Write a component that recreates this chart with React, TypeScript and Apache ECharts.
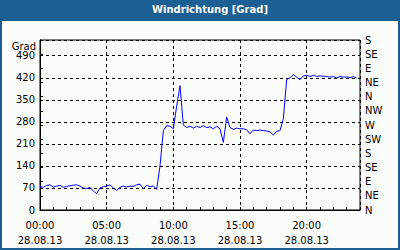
import React, { useEffect, useRef } from "react";
import * as echarts from "echarts";

// Sampling: one value every 15 minutes starting at 00:00
const START_HOUR = 0;
const STEP_MINUTES = 15;
const DATE_LABEL = "28.08.13";
const TITLE = "Windrichtung [Grad]";
const Y_NAME = "Grad";

const directionValues: number[] = [
  74, 72, 78, 80, 73, 76, 78, 72, 75, 77,
  79, 80, 76, 70, 68, 72, 60, 52, 70, 74,
  76, 80, 70, 62, 72, 76, 73, 76, 75, 80,
  82, 68, 78, 74, 76, 66, 140, 252, 268, 266,
  258, 330, 395, 270, 262, 266, 260, 266, 262, 268,
  262, 264, 258, 266, 258, 215, 295, 262, 256, 260,
  258, 258, 255, 242, 254, 252, 254, 252, 251, 248,
  238, 250, 252, 290, 414, 420, 430, 422, 414, 426,
  428, 424, 428, 424, 426, 425, 424, 422, 424, 420,
  424, 422, 423, 420, 424, 419,
];

const leftTicks = { min: 0, max: 540, interval: 70 };
const rightTickLabels = ["N", "NE", "E", "SE", "S", "SW", "W", "NW", "N", "NE", "E", "SE", "S"];
const rightInterval = 45;
const xRange = { min: 0, max: 24, labelInterval: 5, tickInterval: 1 };

const BLUE = "#1c5f94";
const FONT = "DejaVu Sans";

export default function App() {
  const ref = useRef<HTMLDivElement>(null);
  useEffect(() => {
    if (!ref.current) return;
    const chart = echarts.init(ref.current, undefined, { renderer: "svg" });
    const data = directionValues.map((v, i) => [START_HOUR + (i * STEP_MINUTES) / 60, v]);
    const axisText = { color: "#000", fontFamily: FONT, fontSize: 10 };
    chart.setOption({
      animation: false,
      backgroundColor: "#fbfdfb",
      textStyle: { fontFamily: FONT },
      title: {
        text: TITLE,
        left: 152,
        top: 4,
        padding: 0,
        textStyle: { color: "#fff", fontFamily: FONT, fontSize: 10, fontWeight: "bold" },
      },
      graphic: [
        { type: "rect", shape: { x: 0, y: 0, width: 400, height: 21 }, style: { fill: BLUE }, z: -1 },
        { type: "rect", shape: { x: 0, y: 0, width: 2, height: 250 }, style: { fill: BLUE } },
        { type: "rect", shape: { x: 398, y: 0, width: 2, height: 250 }, style: { fill: BLUE } },
        { type: "rect", shape: { x: 0, y: 248, width: 400, height: 2 }, style: { fill: BLUE } },
        {
          type: "text",
          x: 36,
          y: 46,
          style: { text: Y_NAME, fill: "#000", font: `10px "${FONT}"`, textAlign: "right", textVerticalAlign: "middle" },
        },
      ],
      grid: {
        left: 40,
        right: 40,
        top: 40,
        bottom: 40,
        show: true,
        borderColor: "#000",
        borderWidth: 1,
        backgroundColor: "transparent",
      },
      xAxis: [
        {
          type: "value",
          min: xRange.min,
          max: xRange.max,
          interval: xRange.labelInterval,
          axisLine: { show: true, lineStyle: { color: "#000", width: 1 } },
          axisTick: { show: false },
          axisLabel: {
            ...axisText,
            margin: 8,
            lineHeight: 15,
            showMaxLabel: false,
            formatter: (v: number) => `${String(v).padStart(2, "0")}:00\n${DATE_LABEL}`,
          },
          splitLine: { show: true, lineStyle: { color: "#000", type: [3, 3], width: 1 } },
        },
        {
          type: "value",
          position: "bottom",
          min: xRange.min,
          max: xRange.max,
          interval: xRange.tickInterval,
          axisLine: { show: false },
          axisTick: { show: true, inside: true, length: 3, lineStyle: { color: "#000" } },
          axisLabel: { show: false },
          splitLine: { show: false },
        },
      ],
      yAxis: [
        {
          type: "value",
          position: "left",
          min: leftTicks.min,
          max: leftTicks.max,
          interval: leftTicks.interval,
          axisLine: { show: true, lineStyle: { color: "#000", width: 1 } },
          axisTick: { show: false },
          axisLabel: { ...axisText, margin: 5, showMaxLabel: false },
          splitLine: { show: true, lineStyle: { color: "#000", type: [3, 3], width: 1 } },
        },
        {
          type: "value",
          position: "right",
          min: leftTicks.min,
          max: leftTicks.max,
          interval: rightInterval,
          axisLine: { show: true, lineStyle: { color: "#000", width: 1 } },
          axisTick: { show: true, inside: false, length: 3, lineStyle: { color: "#000" } },
          axisLabel: {
            ...axisText,
            margin: 5,
            formatter: (v: number) => rightTickLabels[Math.round(v / rightInterval)] ?? "",
          },
          splitLine: { show: false },
        },
      ],
      series: [
        {
          type: "line",
          xAxisIndex: 0,
          yAxisIndex: 0,
          data,
          showSymbol: false,
          lineStyle: { color: "#0000ff", width: 1 },
        },
      ],
    });
    return () => chart.dispose();
  }, []);
  return <div ref={ref} style={{ position: "fixed", left: 0, top: 0, width: 400, height: 250 }} />;
}
